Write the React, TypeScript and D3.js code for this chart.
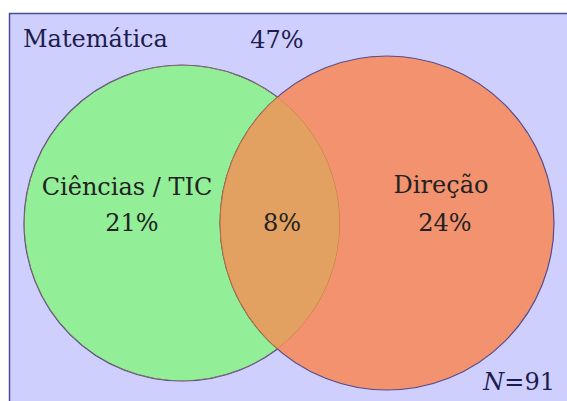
import React from "react";
import * as d3 from "d3";

const sets = ["Ciências / TIC", "Direção"];
const setShares = [21, 24];
const overlapShare = 8;
const outsideLabel = "Matemática";
const outsideShare = 47;
const totalN = 91;

const W = 567;
const H = 401;

export default function App() {
  const c1 = { cx: 182, cy: 223, r: 158 };
  const c2 = { cx: 387, cy: 223, r: 167 };
  const circlePath = (c: { cx: number; cy: number; r: number }) => {
    const p = d3.path();
    p.arc(c.cx, c.cy, c.r, 0, Math.PI * 2);
    p.closePath();
    return p.toString();
  };
  const font = "'DejaVu Serif', serif";
  const navy = "#1c1c50";
  const dark = "#222";
  return (
    <svg width={W} height={H} style={{ position: "absolute", left: 0, top: 0 }}>
      <defs>
        <clipPath id="clipG">
          <path d={circlePath(c1)} />
        </clipPath>
      </defs>
      <rect x={9.5} y={13.5} width={W} height={H} fill="#cfcffd" stroke="#4b4b9b" strokeWidth={1.5} />
      <path d={circlePath(c1)} fill="#92ef98" stroke="#3f4f8f" strokeWidth={1.2} />
      <path d={circlePath(c2)} fill="#f3926f" stroke="#5a4a8a" strokeWidth={1.2} />
      <path d={circlePath(c2)} fill="#e2a160" clipPath="url(#clipG)" />
      <path d={circlePath(c1)} fill="none" stroke="#c07840" strokeWidth={1} clipPath="url(#clipG)" />
      <path d={circlePath(c2)} fill="none" stroke="#b8703a" strokeWidth={1} clipPath="url(#clipG)" />
      <g fontFamily={font} fontSize={24}>
        <text x={23} y={47} fill={navy}>{outsideLabel}</text>
        <text x={277} y={48} fill={navy} textAnchor="middle">{outsideShare}%</text>
        <text x={127} y={195} fill={dark} textAnchor="middle">{sets[0]}</text>
        <text x={132} y={231} fill={dark} textAnchor="middle">{setShares[0]}%</text>
        <text x={441} y={193} fill={dark} textAnchor="middle">{sets[1]}</text>
        <text x={445} y={231} fill={dark} textAnchor="middle">{setShares[1]}%</text>
        <text x={282} y={231} fill={dark} textAnchor="middle">{overlapShare}%</text>
        <text x={555} y={390} fill={navy} textAnchor="end">
          <tspan fontStyle="italic">N</tspan>={totalN}
        </text>
      </g>
    </svg>
  );
}
